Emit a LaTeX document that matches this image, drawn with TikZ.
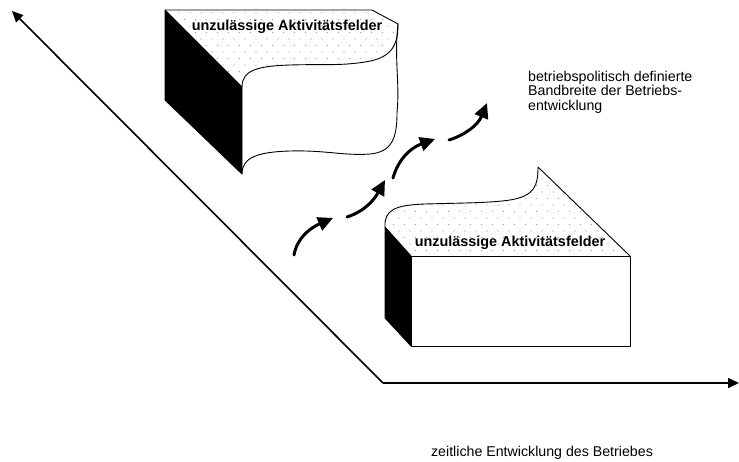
\documentclass[tikz,border=0pt]{standalone}
\usepackage{fontspec}
\setmainfont{Liberation Sans}
\usetikzlibrary{arrows.meta}
\begin{document}
\begin{tikzpicture}[x=1pt,y=-1pt,
  axisline/.style={line width=1.6pt,-{Triangle[length=11pt,width=10pt]}},
  trend/.style={line width=3pt,line cap=round,-{Triangle[length=15pt,width=14pt]}},
  outline/.style={line width=0.9pt,line join=round},
  sideface/.style={fill=black,draw=black,line width=0.9pt,line join=round},
  dotgrid/.style={fill=black!40},
  plaintext/.style={font=\fontsize{14.2}{14.4}\selectfont,inner sep=0pt},
  fieldtext/.style={font=\fontsize{14.4}{15}\selectfont\bfseries,inner sep=0pt}
]
\useasboundingbox (0,0) rectangle (739,461);

% ---------- axes ----------
\coordinate (origin) at (383,383);
\coordinate (yend) at (12,11);
\coordinate (xend) at (739,383);
\draw[axisline] (origin) -- (yend);
\draw[axisline] (origin) -- (xend);

% ---------- upper block ----------
% dotted top face
\begin{scope}
  \clip (165,10) -- (372,10) -- (398,24)
    .. controls (398,45) and (392,58) .. (365,62)
    .. controls (340,66) and (320,64) .. (290,65)
    .. controls (258,66) and (242,70) .. (242,87) -- cycle;
  \foreach \r in {0,...,14}
    \foreach \c in {0,...,22}
      \fill[dotgrid] ({168+\c*11+mod(\r,2)*5.5},{13+\r*6.5}) circle (0.6);
\end{scope}
\draw[outline] (165,10) -- (372,10) -- (398,24)
    .. controls (398,45) and (392,58) .. (365,62)
    .. controls (340,66) and (320,64) .. (290,65)
    .. controls (258,66) and (242,70) .. (242,87);
% front face
\draw[outline] (398,24) .. controls (394,60) and (400,82) .. (397,113)
    .. controls (397,138) and (392,152) .. (370,154)
    .. controls (345,156) and (325,150) .. (290,151)
    .. controls (256,152) and (242,158) .. (242,174);
% black side face
\filldraw[sideface] (165,10) -- (242,87) -- (242,174) -- (165,100) -- cycle;
\node[fieldtext] (upperlabel) at (287,27) {unzulässige Aktivitätsfelder};

% ---------- lower block ----------
\begin{scope}
  \clip (385,227) .. controls (384,210) and (395,205) .. (425,204)
    .. controls (460,203) and (490,203) .. (510,200)
    .. controls (535,196) and (538,185) .. (538,167)
    -- (630,256) -- (411,256) -- cycle;
  \foreach \r in {0,...,15}
    \foreach \c in {0,...,22}
      \fill[dotgrid] ({388+\c*11+mod(\r,2)*5.5},{166+\r*6.5}) circle (0.6);
\end{scope}
\draw[outline] (385,227) .. controls (384,210) and (395,205) .. (425,204)
    .. controls (460,203) and (490,203) .. (510,200)
    .. controls (535,196) and (538,185) .. (538,167)
    -- (630,256);
\draw[outline] (411,256) rectangle (630,346);
\filldraw[sideface] (385,227) -- (411,256) -- (411,346) -- (385,318) -- cycle;
\node[fieldtext] (lowerlabel) at (510,243) {unzulässige Aktivitätsfelder};

% ---------- development trend ----------
\coordinate (t1s) at (294,255); \coordinate (t1e) at (333,218);
\coordinate (t2s) at (347,217); \coordinate (t2e) at (385,180);
\coordinate (t3s) at (393,178); \coordinate (t3e) at (435,139);
\coordinate (t4s) at (449,140); \coordinate (t4e) at (487,103);
\draw[trend] (t1s) .. controls (297,238) and (310,228) .. (t1e);
\draw[trend] (t2s) .. controls (365,211) and (374,200) .. (t2e);
\draw[trend] (t3s) .. controls (398,160) and (410,148) .. (t3e);
\draw[trend] (t4s) .. controls (465,135) and (478,125) .. (t4e);

% ---------- texts ----------
\node[plaintext,anchor=north west,align=left] (band) at (528,71)
  {betriebspolitisch definierte\\Bandbreite der Betriebs-\\entwicklung};
\node[plaintext] (time) at (542,453) {zeitliche Entwicklung des Betriebes};
\end{tikzpicture}
\end{document}
